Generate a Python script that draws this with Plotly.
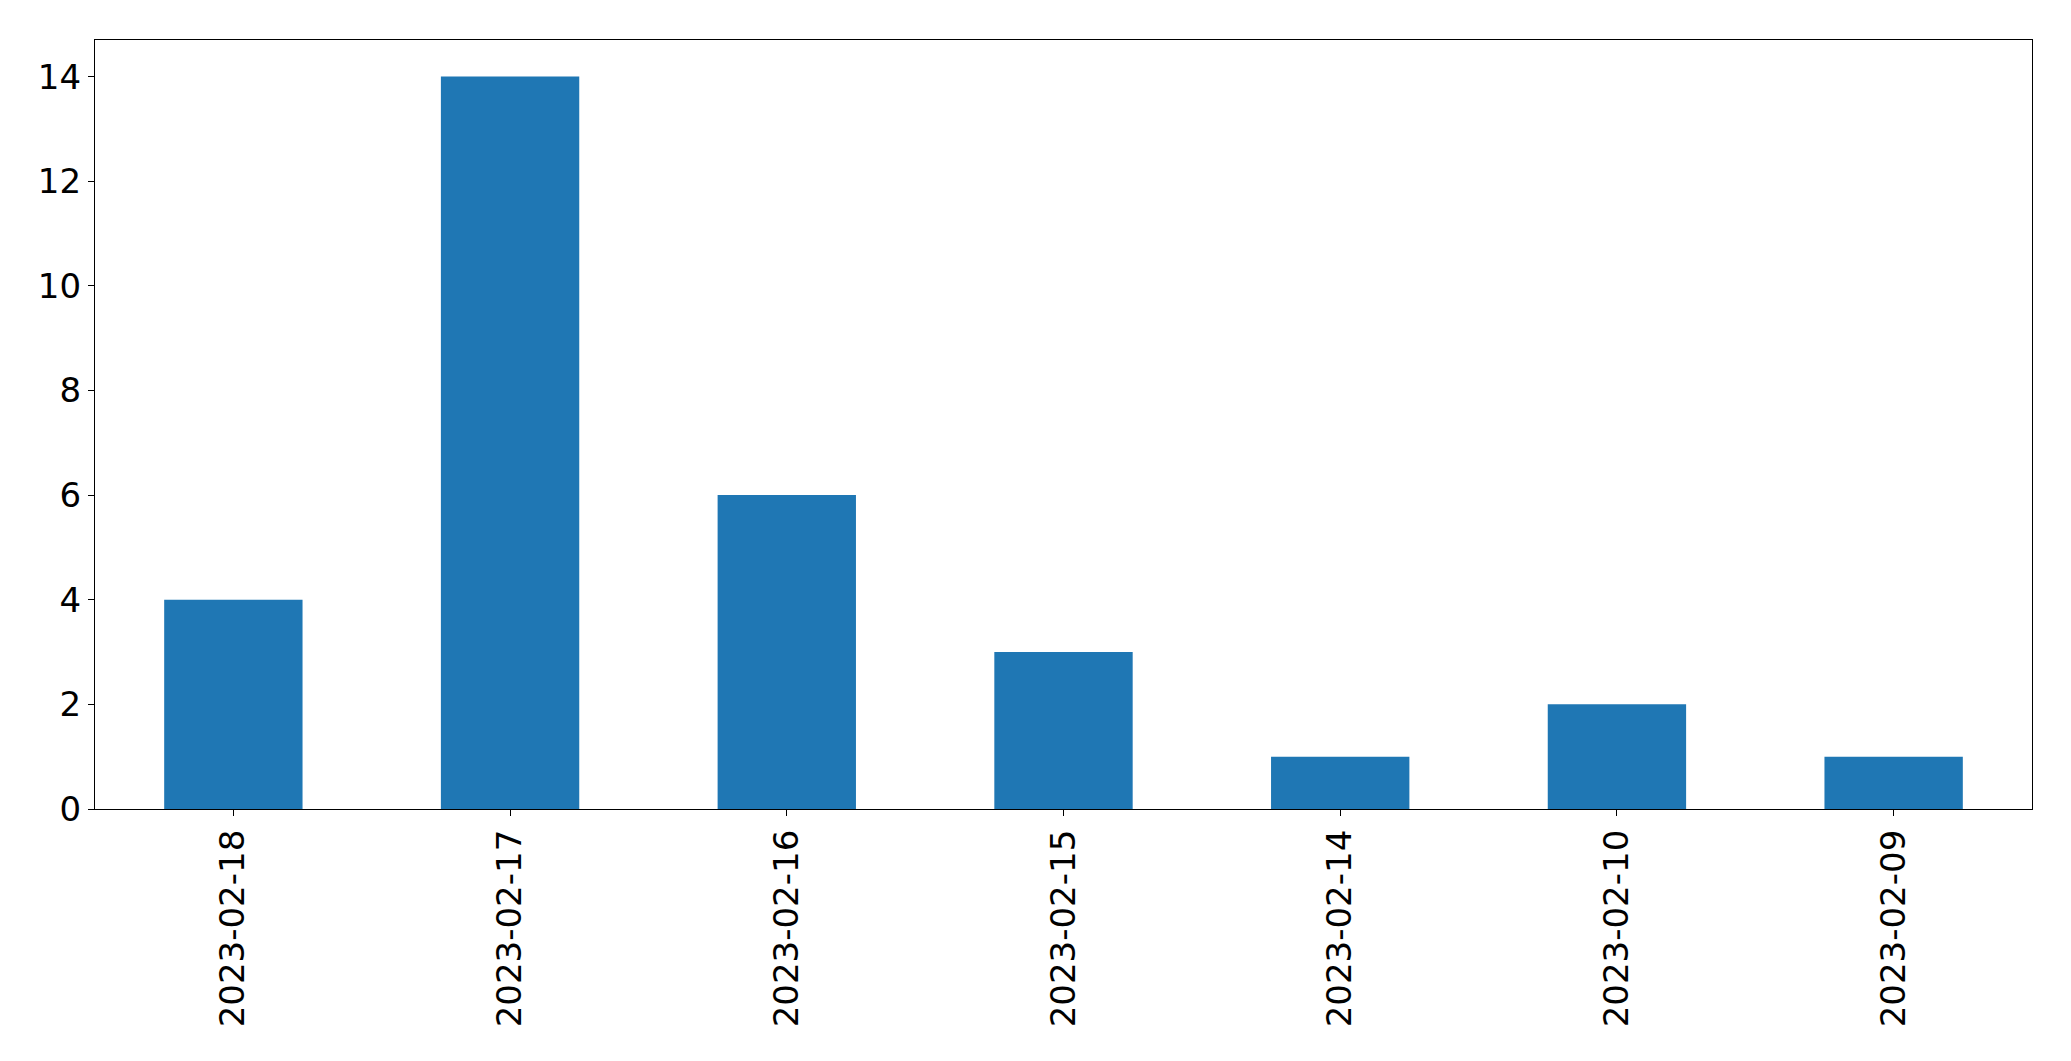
import plotly.graph_objects as go

dates = ["2023-02-18", "2023-02-17", "2023-02-16", "2023-02-15", "2023-02-14", "2023-02-10", "2023-02-09"]
counts = [4, 14, 6, 3, 1, 2, 1]
y_ticks = [0, 2, 4, 6, 8, 10, 12, 14]

fig = go.Figure(go.Bar(x=dates, y=counts, width=0.5, marker=dict(color="#1f77b4", line=dict(width=0))))

fig.update_layout(
    width=2071, height=1061,
    margin=dict(l=87, r=47, t=32, b=260, autoexpand=False),
    plot_bgcolor="white", paper_bgcolor="white",
    font=dict(family="DejaVu Sans", size=34, color="black"),
    showlegend=False,
)
fig.update_xaxes(
    type="category", range=[-0.5, 6.5], tickangle=-90,
    showline=True, mirror=True, linecolor="black", linewidth=1.3,
    ticks="outside", ticklen=6, tickwidth=1.3, tickcolor="black",
    showgrid=False, zeroline=False, tickfont=dict(size=34),
)
fig.update_yaxes(
    range=[0, 14.7], tickvals=y_ticks,
    showline=True, mirror=True, linecolor="black", linewidth=1.3,
    ticks="outside", ticklen=6, tickwidth=1.3, tickcolor="black",
    showgrid=False, zeroline=False, tickfont=dict(size=34),
)

fig.write_html("out.html")
